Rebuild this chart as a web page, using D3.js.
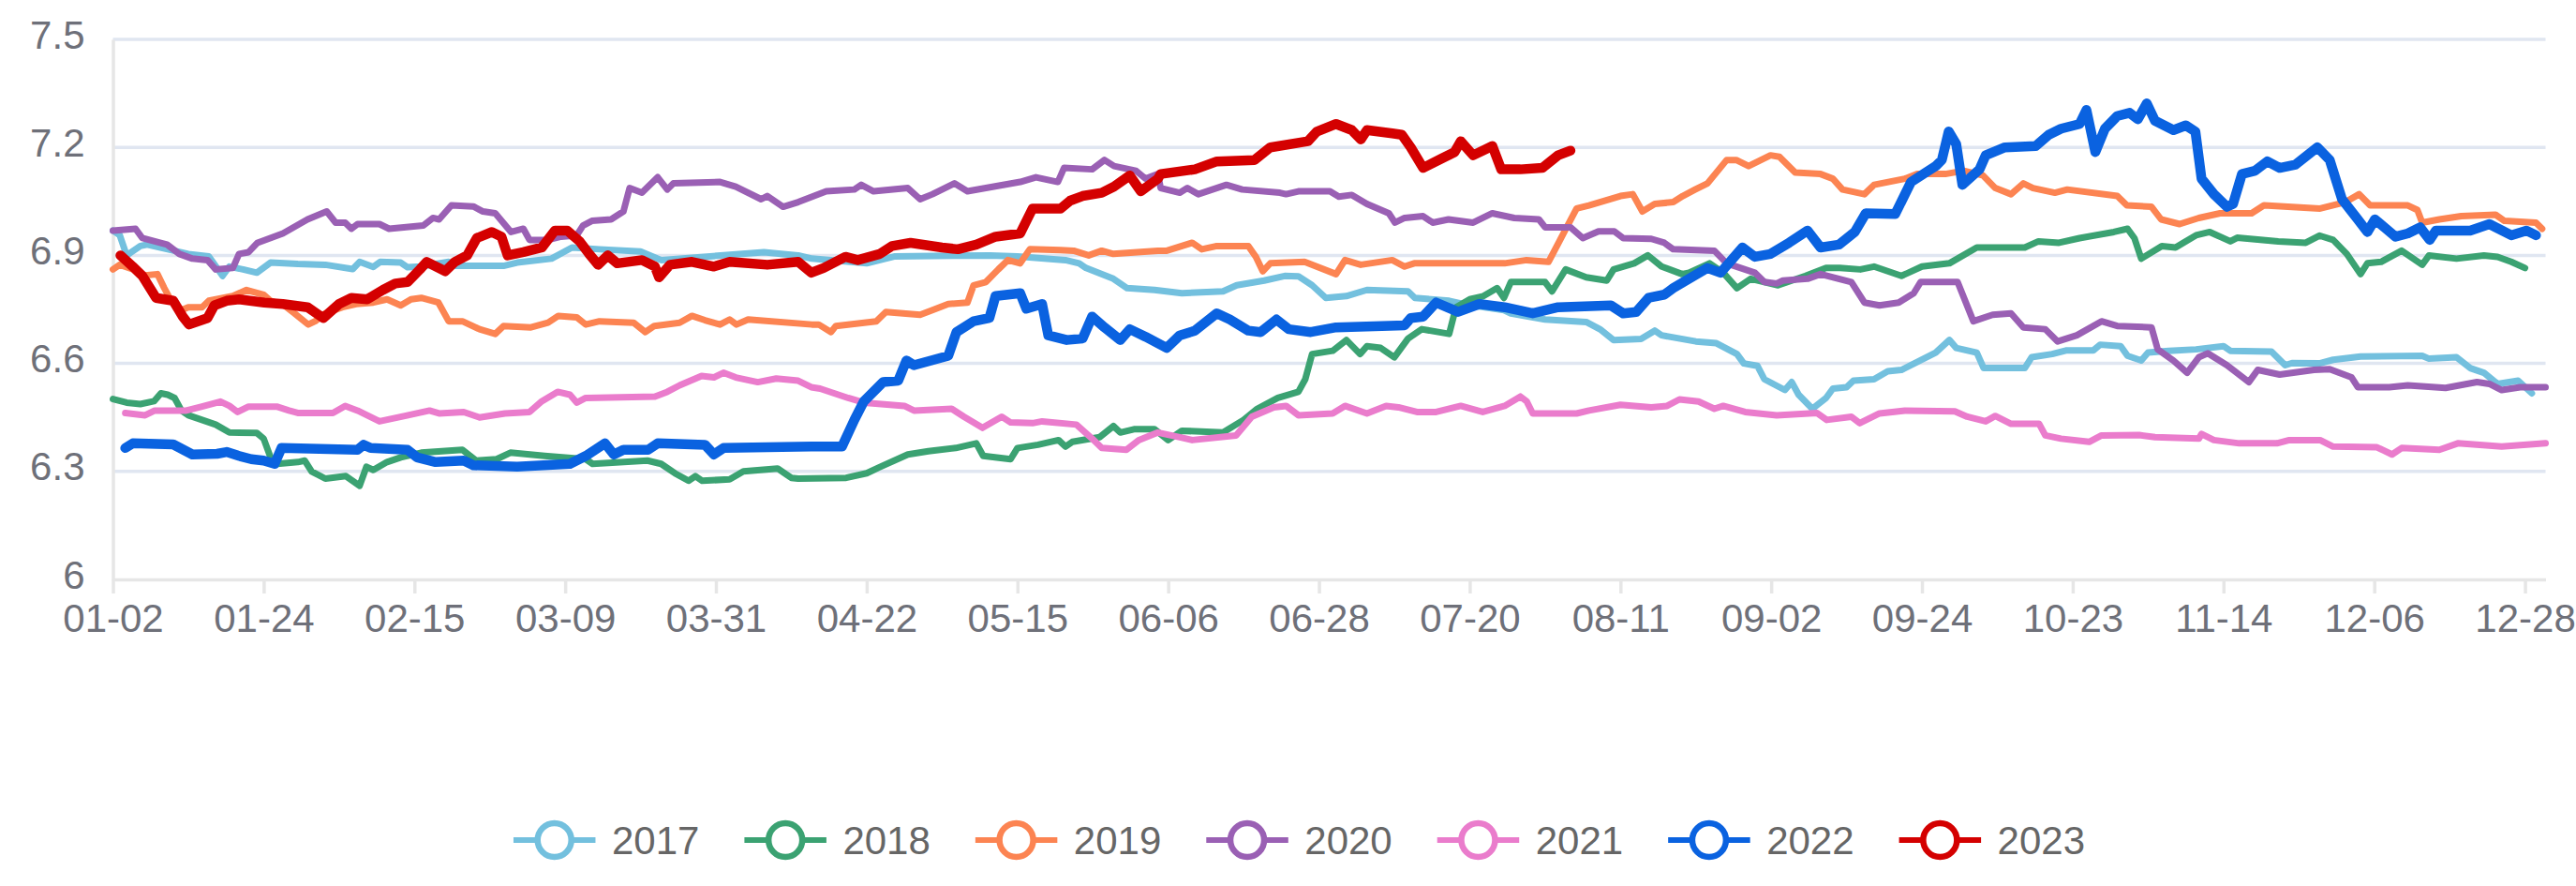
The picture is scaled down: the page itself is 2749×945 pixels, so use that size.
<!DOCTYPE html>
<html><head><meta charset="utf-8">
<script src="https://cdn.jsdelivr.net/npm/d3@7/dist/d3.min.js"></script>
<style>html,body{margin:0;padding:0;background:#fff;} svg{display:block;font-family:"Liberation Sans",Arial,sans-serif;}</style>
</head><body><svg id="chart" width="2749" height="945"></svg>
<script>
const years = ["2017","2018","2019","2020","2021","2022","2023"];
const colors = ["#73c0de","#3ba272","#fc8452","#9a60b4","#ea7ccc","#0a62e0","#d40000"];
const lineWidths = [7,7,7,7,7,10.5,10.5];
const tickLabels = ["01-02","01-24","02-15","03-09","03-31","04-22","05-15","06-06","06-28","07-20","08-11","09-02","09-24","10-23","11-14","12-06","12-28"];
const tickStep = 22;
const lastIndex = 355;
const yTicks = [6,6.3,6.6,6.9,7.2,7.5];

// [day index, value]
const s2017 = [[0,6.969],[1,6.956],[2,6.900],[4,6.926],[5,6.930],[8,6.917],[11,6.904],[14,6.897],[16,6.843],[17,6.869],[19,6.861],[21,6.852],[23,6.880],[27,6.876],[31,6.874],[35,6.862],[36,6.882],[38,6.868],[39,6.882],[42,6.880],[43,6.867],[45,6.869],[49,6.882],[50,6.871],[57,6.871],[59,6.880],[64,6.891],[67,6.922],[71,6.917],[77,6.911],[80,6.887],[95,6.909],[100,6.900],[102,6.891],[110,6.878],[114,6.897],[128,6.900],[132,6.897],[139,6.887],[141,6.878],[142,6.865],[146,6.835],[148,6.809],[152,6.804],[156,6.795],[162,6.800],[164,6.817],[168,6.830],[171,6.843],[173,6.842],[175,6.817],[177,6.782],[180,6.787],[183,6.804],[189,6.800],[190,6.782],[195,6.774],[197,6.765],[203,6.748],[204,6.739],[209,6.722],[215,6.715],[217,6.695],[219,6.665],[223,6.668],[225,6.691],[226,6.678],[231,6.661],[234,6.656],[237,6.626],[238,6.600],[240,6.593],[241,6.556],[244,6.526],[245,6.548],[246,6.513],[248,6.474],[250,6.504],[251,6.530],[253,6.534],[254,6.552],[257,6.556],[259,6.578],[261,6.582],[266,6.630],[268,6.665],[269,6.643],[272,6.630],[273,6.587],[279,6.587],[280,6.617],[283,6.626],[285,6.636],[289,6.636],[290,6.652],[293,6.648],[294,6.621],[296,6.608],[297,6.630],[300,6.635],[304,6.639],[308,6.648],[309,6.635],[315,6.633],[317,6.595],[318,6.601],[322,6.600],[324,6.610],[328,6.619],[337,6.621],[338,6.613],[342,6.617],[344,6.587],[346,6.574],[348,6.543],[351,6.552],[353,6.517]];

const s2018 = [[0,6.501],[2,6.491],[4,6.487],[6,6.495],[7,6.517],[8,6.513],[9,6.504],[10,6.469],[11,6.456],[13,6.443],[15,6.430],[17,6.408],[21,6.407],[22,6.391],[23,6.339],[24,6.321],[27,6.326],[28,6.330],[29,6.300],[31,6.280],[34,6.287],[36,6.260],[37,6.313],[38,6.304],[40,6.326],[42,6.339],[45,6.352],[51,6.360],[53,6.330],[56,6.334],[58,6.352],[63,6.343],[69,6.334],[70,6.321],[78,6.330],[80,6.321],[82,6.295],[84,6.274],[85,6.287],[86,6.274],[90,6.278],[92,6.300],[97,6.308],[99,6.282],[100,6.280],[107,6.282],[110,6.295],[112,6.313],[116,6.347],[119,6.356],[123,6.365],[126,6.378],[127,6.343],[131,6.334],[132,6.365],[135,6.374],[138,6.387],[139,6.369],[140,6.382],[144,6.395],[146,6.426],[147,6.408],[149,6.417],[152,6.417],[154,6.387],[156,6.413],[162,6.408],[165,6.443],[167,6.474],[170,6.504],[173,6.521],[174,6.556],[175,6.626],[178,6.635],[180,6.665],[182,6.626],[183,6.648],[185,6.643],[187,6.617],[189,6.669],[191,6.695],[195,6.682],[196,6.756],[198,6.778],[200,6.787],[202,6.809],[203,6.782],[204,6.826],[209,6.826],[210,6.800],[212,6.861],[215,6.839],[218,6.830],[219,6.861],[222,6.878],[224,6.900],[226,6.869],[229,6.848],[230,6.852],[233,6.878],[235,6.852],[237,6.809],[239,6.835],[241,6.826],[243,6.817],[247,6.843],[250,6.865],[252,6.865],[255,6.861],[257,6.869],[259,6.856],[261,6.843],[264,6.869],[268,6.878],[272,6.922],[279,6.922],[281,6.939],[284,6.935],[287,6.948],[292,6.965],[294,6.974],[295,6.948],[296,6.891],[299,6.926],[301,6.922],[304,6.956],[306,6.965],[309,6.939],[310,6.949],[316,6.939],[320,6.935],[322,6.955],[324,6.943],[326,6.904],[328,6.848],[329,6.878],[331,6.882],[334,6.913],[337,6.874],[338,6.900],[342,6.891],[346,6.900],[348,6.896],[350,6.882],[352,6.865]];

const s2019 = [[0,6.861],[1,6.874],[3,6.861],[4,6.843],[6.5,6.848],[7.5,6.809],[8.5,6.774],[10,6.748],[11,6.756],[13,6.756],[14,6.774],[17.5,6.787],[19.5,6.804],[22,6.791],[23,6.774],[25,6.761],[26.5,6.739],[28.5,6.708],[29.5,6.717],[31,6.739],[33.5,6.756],[35.5,6.765],[38,6.769],[40,6.778],[42,6.761],[43.5,6.778],[45,6.782],[47.5,6.769],[49,6.717],[51,6.717],[53.5,6.695],[55.8,6.682],[57,6.704],[61,6.700],[63.5,6.713],[65,6.732],[67.7,6.728],[69,6.708],[71,6.717],[76,6.713],[77.7,6.687],[79,6.704],[82.7,6.713],[84.5,6.732],[86.4,6.720],[88.6,6.708],[90,6.722],[91,6.708],[92.7,6.722],[102,6.708],[103,6.708],[104.8,6.687],[105.5,6.704],[111.4,6.717],[112.8,6.743],[117.8,6.735],[119.6,6.748],[121.9,6.765],[124.7,6.769],[125.6,6.817],[127.4,6.826],[129.2,6.861],[130.6,6.887],[132.4,6.878],[133.8,6.917],[138.3,6.915],[140.2,6.913],[142.4,6.900],[144.3,6.913],[146,6.904],[152.5,6.913],[153.8,6.913],[157.5,6.935],[158.9,6.917],[161.1,6.926],[165.7,6.926],[166.8,6.896],[167.8,6.856],[168.9,6.878],[173.9,6.882],[178.5,6.848],[179.8,6.887],[182.1,6.874],[186.7,6.887],[188.5,6.869],[189.9,6.878],[203.1,6.878],[206.3,6.887],[209.5,6.882],[211.8,6.965],[213.6,7.030],[215.4,7.039],[220,7.065],[221.8,7.070],[223.2,7.022],[225,7.043],[227.7,7.048],[229.1,7.065],[230.9,7.083],[232.7,7.100],[235.5,7.165],[236.9,7.165],[238.7,7.148],[241.9,7.178],[243.2,7.174],[245.5,7.130],[249.2,7.126],[251,7.113],[252.4,7.083],[255.6,7.070],[257,7.096],[261.5,7.113],[263.3,7.126],[267.4,7.126],[270.1,7.135],[272.9,7.122],[274.7,7.087],[277,7.070],[278.8,7.100],[280.2,7.087],[283.4,7.074],[285.2,7.083],[292.5,7.065],[293.9,7.039],[297.5,7.035],[298.9,7.000],[301.6,6.987],[304.4,7.004],[307.5,7.017],[312.1,7.017],[313.9,7.039],[322.1,7.030],[325.8,7.048],[327.8,7.070],[329.4,7.039],[334.9,7.039],[336.3,7.026],[337,6.991],[339.5,7.000],[342.7,7.009],[347.7,7.013],[349,6.996],[353.6,6.991],[354.5,6.974]];

const s2020 = [[0,6.969],[3.3,6.974],[4.3,6.948],[7.9,6.930],[9.7,6.904],[11.6,6.891],[13.8,6.887],[15,6.861],[17.5,6.865],[18.4,6.904],[19.8,6.909],[21.1,6.935],[24.8,6.961],[28.4,7.000],[31.2,7.022],[32.5,6.991],[33.9,6.991],[34.8,6.974],[35.7,6.987],[38.9,6.987],[40.3,6.974],[45.3,6.983],[46.7,7.004],[47.6,7.000],[49.4,7.039],[52.6,7.036],[54,7.022],[55.8,7.017],[58.1,6.965],[59.9,6.974],[60.8,6.943],[63.5,6.943],[65.4,6.952],[67.7,6.956],[68.6,6.983],[69.9,6.996],[72.7,7.000],[74.5,7.022],[75.4,7.087],[77.2,7.074],[79.5,7.117],[80.9,7.083],[81.8,7.100],[88.6,7.104],[90.9,7.091],[94.6,7.056],[95.5,7.065],[97.8,7.035],[100,7.048],[104.1,7.078],[108.2,7.083],[109.2,7.096],[111,7.078],[116,7.087],[117.8,7.056],[119.6,7.070],[122.8,7.100],[124.7,7.078],[132.4,7.104],[134.7,7.117],[137.9,7.104],[138.8,7.143],[142.9,7.139],[144.7,7.165],[146.1,7.148],[149.3,7.135],[150.7,7.113],[152.5,7.126],[152.9,7.087],[155.7,7.074],[156.8,7.087],[158.4,7.070],[162.5,7.096],[164.8,7.083],[170.3,7.074],[171.2,7.070],[173,7.078],[177.6,7.078],[178.9,7.063],[180.8,7.068],[183,7.043],[186.2,7.017],[187.1,6.991],[188.5,7.004],[191.2,7.009],[192.6,6.991],[194.9,7.000],[198.5,6.991],[201.3,7.017],[204.5,7.004],[208.1,7.000],[209,6.978],[212.7,6.978],[214.5,6.948],[216.8,6.967],[219.1,6.967],[220.4,6.948],[224.5,6.946],[226.4,6.935],[227.7,6.917],[233.7,6.913],[235.5,6.878],[239.6,6.852],[241,6.826],[242.8,6.822],[243.7,6.830],[247.3,6.835],[249.2,6.848],[253.7,6.826],[255.6,6.769],[257.8,6.761],[260.6,6.769],[262.8,6.795],[263.8,6.826],[269.2,6.826],[271.5,6.717],[274.3,6.735],[277,6.739],[278.8,6.700],[282,6.695],[283.8,6.661],[286.6,6.678],[290.2,6.717],[292.5,6.704],[297.5,6.700],[298.4,6.639],[300.7,6.608],[302.7,6.574],[304.4,6.617],[305.7,6.628],[308.5,6.595],[311.7,6.548],[313,6.582],[316.2,6.569],[321.2,6.582],[323.5,6.584],[326.7,6.561],[327.6,6.534],[332.2,6.534],[334.9,6.539],[340.4,6.532],[345,6.548],[346.8,6.543],[348.6,6.526],[351.3,6.534],[355,6.534]];

const s2021 = [[1.8,6.462],[4.7,6.456],[6.1,6.469],[10.7,6.469],[13,6.480],[15.7,6.494],[17,6.482],[18.2,6.465],[19.8,6.480],[23.9,6.480],[25.7,6.469],[27.1,6.462],[32.1,6.462],[33.9,6.482],[35.7,6.469],[38.9,6.439],[42.6,6.454],[46.2,6.469],[47.6,6.461],[51.2,6.465],[53.5,6.450],[57.2,6.461],[60.8,6.465],[62.6,6.495],[64.9,6.521],[66.7,6.513],[67.7,6.491],[69,6.504],[79.1,6.508],[80.9,6.521],[82.7,6.539],[85.9,6.565],[87.7,6.561],[89.1,6.574],[90.9,6.561],[94.1,6.548],[96.8,6.558],[100,6.552],[101.9,6.534],[103.2,6.530],[107.3,6.504],[109.6,6.491],[115.5,6.482],[116.9,6.469],[122.4,6.474],[124.2,6.452],[126.9,6.421],[129.7,6.452],[131,6.436],[134.2,6.434],[135.6,6.439],[140.6,6.430],[142.9,6.391],[144.3,6.365],[147.9,6.360],[149.7,6.387],[152.5,6.408],[155.7,6.395],[157.5,6.387],[163.9,6.400],[166.2,6.452],[169.4,6.478],[171.2,6.482],[173,6.456],[178,6.461],[179.8,6.482],[183,6.461],[185.8,6.482],[187.6,6.478],[190.3,6.465],[193.1,6.465],[196.7,6.482],[199.9,6.465],[203.1,6.482],[205.4,6.508],[206.3,6.495],[207.2,6.461],[213.6,6.461],[215.4,6.469],[220,6.485],[224.5,6.478],[226.8,6.482],[228.6,6.500],[231.4,6.494],[233.7,6.474],[235,6.482],[238.2,6.465],[242.8,6.456],[248.7,6.462],[250.1,6.443],[253.7,6.452],[254.9,6.434],[257.8,6.461],[261.5,6.469],[268.8,6.467],[270.6,6.452],[273.3,6.439],[274.7,6.454],[277,6.432],[281.1,6.432],[282,6.400],[284.3,6.391],[288.4,6.382],[290.2,6.400],[295.7,6.401],[298,6.395],[304.4,6.391],[304.8,6.404],[306.6,6.387],[310.3,6.378],[315.8,6.378],[317.6,6.387],[322.1,6.387],[324,6.369],[330.4,6.367],[332.6,6.347],[334,6.365],[339.5,6.360],[342.2,6.378],[348.6,6.369],[355,6.378]];

const s2022 = [[1.8,6.365],[2.9,6.378],[8.8,6.375],[11.6,6.347],[15.2,6.349],[16.6,6.354],[18.4,6.343],[20.2,6.334],[22,6.330],[23.6,6.321],[24.6,6.365],[35.7,6.360],[36.6,6.374],[37.6,6.365],[43,6.360],[44.4,6.339],[47.1,6.326],[51.2,6.330],[52.6,6.317],[59,6.313],[66.7,6.321],[69,6.343],[71.8,6.378],[73.1,6.347],[74.5,6.360],[78.1,6.360],[79.5,6.378],[86.4,6.374],[87.7,6.347],[89.1,6.365],[101.9,6.369],[106.4,6.369],[108.2,6.443],[109.6,6.495],[112.4,6.548],[114.6,6.552],[115.8,6.608],[116.9,6.595],[121.9,6.621],[123.1,6.687],[125.6,6.717],[127.9,6.726],[128.8,6.787],[132.4,6.795],[133.3,6.752],[135.6,6.765],[136.5,6.678],[139.2,6.665],[141.5,6.669],[142.9,6.730],[144.7,6.700],[147,6.665],[148.4,6.695],[150.7,6.674],[152.5,6.656],[153.8,6.643],[155.7,6.678],[157.9,6.691],[161.1,6.739],[163,6.722],[165.7,6.691],[167.5,6.687],[169.8,6.722],[171.6,6.695],[174.8,6.687],[178.5,6.700],[188.5,6.706],[189.4,6.726],[191.2,6.730],[193.1,6.769],[196.3,6.743],[199.4,6.765],[203.1,6.756],[207.2,6.739],[210.9,6.756],[218.6,6.761],[220.4,6.739],[222.3,6.743],[224.1,6.782],[226.4,6.791],[227.7,6.809],[232.7,6.865],[234.6,6.852],[237.8,6.922],[239.6,6.896],[241.9,6.904],[244.6,6.935],[247.3,6.969],[249.2,6.922],[251.9,6.930],[254.2,6.965],[255.8,7.017],[260.1,7.015],[262.4,7.104],[266,7.148],[266.9,7.165],[267.9,7.244],[269,7.209],[269.9,7.096],[272.4,7.139],[273.3,7.178],[276.1,7.200],[280.6,7.204],[282.5,7.235],[284.3,7.252],[287,7.265],[288,7.304],[289.3,7.187],[290.7,7.252],[292.5,7.287],[294.3,7.296],[295.5,7.278],[296.8,7.322],[298,7.274],[300.7,7.248],[302.5,7.261],[303.9,7.244],[304.8,7.113],[306.6,7.070],[308.5,7.035],[309.4,7.043],[310.7,7.126],[312.6,7.135],[314.4,7.161],[316.2,7.143],[318.5,7.152],[321.7,7.200],[323.5,7.165],[325.3,7.056],[327.6,7.000],[329,6.965],[330.1,7.000],[333.1,6.952],[334.9,6.961],[336.7,6.978],[338.1,6.943],[339,6.969],[344,6.969],[346.8,6.987],[350,6.956],[352.2,6.969],[353.6,6.956]];

const s2023 = [[1.1,6.900],[2.9,6.869],[4.3,6.843],[6.3,6.782],[8.8,6.774],[10.2,6.730],[11.1,6.708],[13.8,6.726],[14.8,6.761],[16.6,6.774],[18.4,6.778],[22.1,6.769],[24.8,6.765],[28.4,6.756],[30.7,6.726],[33,6.765],[34.8,6.782],[37.1,6.778],[39.4,6.804],[41.2,6.822],[43,6.826],[44.8,6.861],[45.8,6.882],[48.5,6.856],[49.9,6.882],[51.7,6.900],[53.1,6.948],[55.3,6.965],[56.7,6.952],[57.6,6.900],[59.9,6.909],[62.6,6.922],[64.5,6.969],[66.3,6.969],[68.1,6.939],[69.5,6.904],[70.8,6.874],[72.2,6.900],[73.6,6.878],[77.2,6.887],[79.1,6.869],[79.7,6.839],[81.3,6.874],[84.5,6.882],[87.7,6.869],[90,6.882],[95.5,6.874],[100,6.882],[101.9,6.852],[103.7,6.865],[106.9,6.896],[108.7,6.887],[111.9,6.904],[113.7,6.926],[116.4,6.935],[121,6.922],[123.3,6.917],[126,6.930],[128.8,6.952],[132.4,6.961],[134.2,7.030],[138.3,7.030],[139.7,7.052],[141.5,7.065],[144.3,7.074],[146.1,7.091],[148.4,7.122],[150,7.078],[152.5,7.113],[152.9,7.126],[157.9,7.139],[161.1,7.161],[166.6,7.165],[168.9,7.200],[174.4,7.217],[175.7,7.244],[178.5,7.265],[180.8,7.248],[182.1,7.222],[183,7.248],[186.7,7.239],[188.1,7.235],[189.4,7.200],[191.2,7.143],[194,7.170],[195.8,7.187],[196.7,7.217],[198.5,7.178],[201.3,7.204],[202.6,7.139],[205.4,7.139],[208.6,7.143],[210.9,7.178],[212.7,7.191]];

const seriesData = [s2017,s2018,s2019,s2020,s2021,s2022,s2023];

(function () {
const svg = d3.select("#chart");
const pL = 120.5, pR = 2716.5, pT = 42, pB = 618;
const x = d3.scaleLinear().domain([0, lastIndex]).range([pL, pR]);
const y = d3.scaleLinear().domain([6, 7.5]).range([pB, pT]);
const textColor = "#6E7079";
const fs = 42;
const ff = '"Liberation Sans",Arial,sans-serif';

// grid
svg.append("g").selectAll("line").data(yTicks.filter(v => v > 6)).join("line")
  .attr("x1", pL).attr("x2", pR)
  .attr("y1", d => y(d)).attr("y2", d => y(d))
  .attr("stroke", "#E0E6F1").attr("stroke-width", 3.5);

// y axis
const yAxis = svg.append("g").attr("transform", `translate(${pL},0)`)
  .call(d3.axisLeft(y).tickValues(yTicks).tickSize(0).tickSizeOuter(0).tickPadding(30).tickFormat(d => String(+d.toFixed(1))));
yAxis.select(".domain").attr("stroke", "#E6E6E6").attr("stroke-width", 3.5);
yAxis.selectAll("text").attr("fill", textColor).attr("y", -6).attr("dy", "0.36em")
  .style("font-size", fs + "px").style("font-family", ff);

// x axis
const tickIdx = tickLabels.map((_, k) => k * tickStep);
const xAxis = svg.append("g").attr("transform", `translate(0,${pB})`)
  .call(d3.axisBottom(x).tickValues(tickIdx).tickSize(15).tickSizeOuter(0).tickPadding(11).tickFormat((d, k) => tickLabels[k]));
xAxis.select(".domain").attr("stroke", "#E6E6E6").attr("stroke-width", 3.5);
xAxis.selectAll(".tick line").attr("stroke", "#E6E6E6").attr("stroke-width", 3.5);
xAxis.selectAll("text").attr("fill", textColor).style("font-size", fs + "px").style("font-family", ff);

// lines
const line = d3.line().x(d => x(d[0])).y(d => y(d[1]));
const lg = svg.append("g").attr("fill", "none").attr("stroke-linejoin", "round").attr("stroke-linecap", "round");
seriesData.forEach((s, k) => {
  lg.append("path").attr("d", line(s)).attr("stroke", colors[k]).attr("stroke-width", lineWidths[k]);
});

// legend
const legend = svg.append("g");
const cy = 896;
let cx = 0;
years.forEach((yr, k) => {
  const g = legend.append("g").attr("transform", `translate(${cx},${cy})`);
  g.append("line").attr("x1", 0).attr("x2", 87.5).attr("y1", 0).attr("y2", 0)
    .attr("stroke", colors[k]).attr("stroke-width", 6);
  g.append("circle").attr("cx", 43.75).attr("cy", 0).attr("r", 18)
    .attr("fill", "#fff").attr("stroke", colors[k]).attr("stroke-width", 6.5);
  const t = g.append("text").attr("x", 105).attr("y", 0).attr("dy", "0.36em")
    .attr("fill", "#666").style("font-size", fs + "px").style("font-family", ff).text(yr);
  const w = t.node().getComputedTextLength();
  cx += 105 + w + 48;
});
const total = cx - 48;
legend.attr("transform", `translate(${(2749 - total) / 2 + 12},0)`);
})();
</script></body></html>
